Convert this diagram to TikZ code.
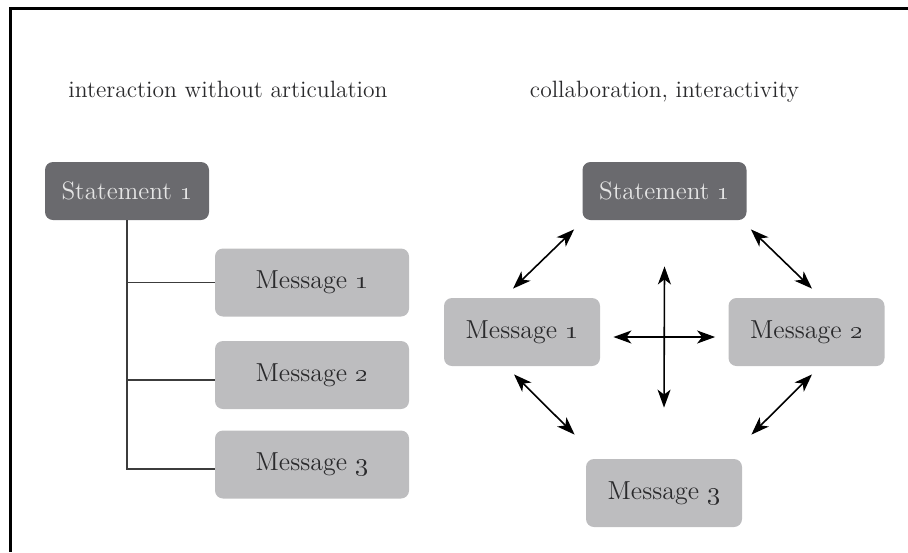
\documentclass[tikz,border=0pt]{standalone}
\usepackage{fix-cm}
\usepackage{tikz}
\usetikzlibrary{arrows.meta}

\definecolor{darkbox}{HTML}{6A6A6E}
\definecolor{lightbox}{HTML}{BDBDBF}
\definecolor{boxtext}{HTML}{2A2A2C}
\definecolor{linegray}{HTML}{3C3C3C}

\begin{document}
\begin{tikzpicture}[x=0.5pt, y=-0.5pt,
    title/.style={anchor=base, text=boxtext, font=\fontsize{11.8}{14}\selectfont},
    stmt/.style={shape=rectangle, rounded corners=4pt, fill=darkbox, text=white!90!black,
                 minimum width=82pt, minimum height=29pt, font=\fontsize{12.6}{15}\selectfont},
    msgL/.style={shape=rectangle, rounded corners=4pt, fill=lightbox, text=boxtext,
                 minimum width=97pt, minimum height=34pt, font=\fontsize{13}{15}\selectfont},
    msgR/.style={msgL, minimum width=78pt},
    tree/.style={draw=linegray, line width=0.8pt},
    dbl/.style={{Stealth[length=9pt, width=6.5pt, inset=2.5pt]}-{Stealth[length=9pt, width=6.5pt, inset=2.5pt]}, line width=0.8pt}]

    \useasboundingbox (0,0) rectangle (908,552);
    \draw[line width=1.5pt] (908,8) -- (10,8) -- (10,552);

    % left side
    \node[title] (tL) at (228,97) {interaction without articulation};
    \node[stmt] (st1) at (127,191) {Statement \oldstylenums{1}};
    \node[msgL] (m1L) at (312,282.5) {Message\ \oldstylenums{1}};
    \node[msgL] (m2L) at (312,375) {Message\ \oldstylenums{2}};
    \node[msgL] (m3L) at (312,464.5) {Message\ \oldstylenums{3}};

    \draw[tree] (st1.south) |- ([yshift=-2.2pt]m3L.west);
    \draw[tree] (st1.south |- m1L.west) -- (m1L.west);
    \draw[tree] ([yshift=-2.5pt]st1.south |- m2L.west) -- ([yshift=-2.5pt]m2L.west);

    % right side
    \node[title] (tR) at (664.5,97) {collaboration, interactivity};
    \node[stmt] (st2) at (664.5,191) {Statement \oldstylenums{1}};
    \node[msgR] (m1R) at (522,332) {Message\ \oldstylenums{1}};
    \node[msgR] (m2R) at (806.5,332) {Message\ \oldstylenums{2}};
    \node[msgR] (m3R) at (664,493) {Message\ \oldstylenums{3}};

    \draw[dbl] ([shift={(-8,9)}]st2.south west) -- ([shift={(-9,-9)}]m1R.north);
    \draw[dbl] ([shift={(4,9)}]st2.south east) -- ([shift={(5.5,-9)}]m2R.north);
    \draw[dbl] ([shift={(-8,8)}]m1R.south) -- ([shift={(-11,-24)}]m3R.north west);
    \draw[dbl] ([shift={(5.5,8)}]m2R.south) -- ([shift={(9,-24)}]m3R.north east);

    \draw[dbl] ([shift={(0,46)}]st2.south) -- ([shift={(0,-51)}]m3R.north);
    \draw[dbl] ([shift={(13,5)}]m1R.east) -- ([shift={(-13,5)}]m2R.west);

\end{tikzpicture}
\end{document}
